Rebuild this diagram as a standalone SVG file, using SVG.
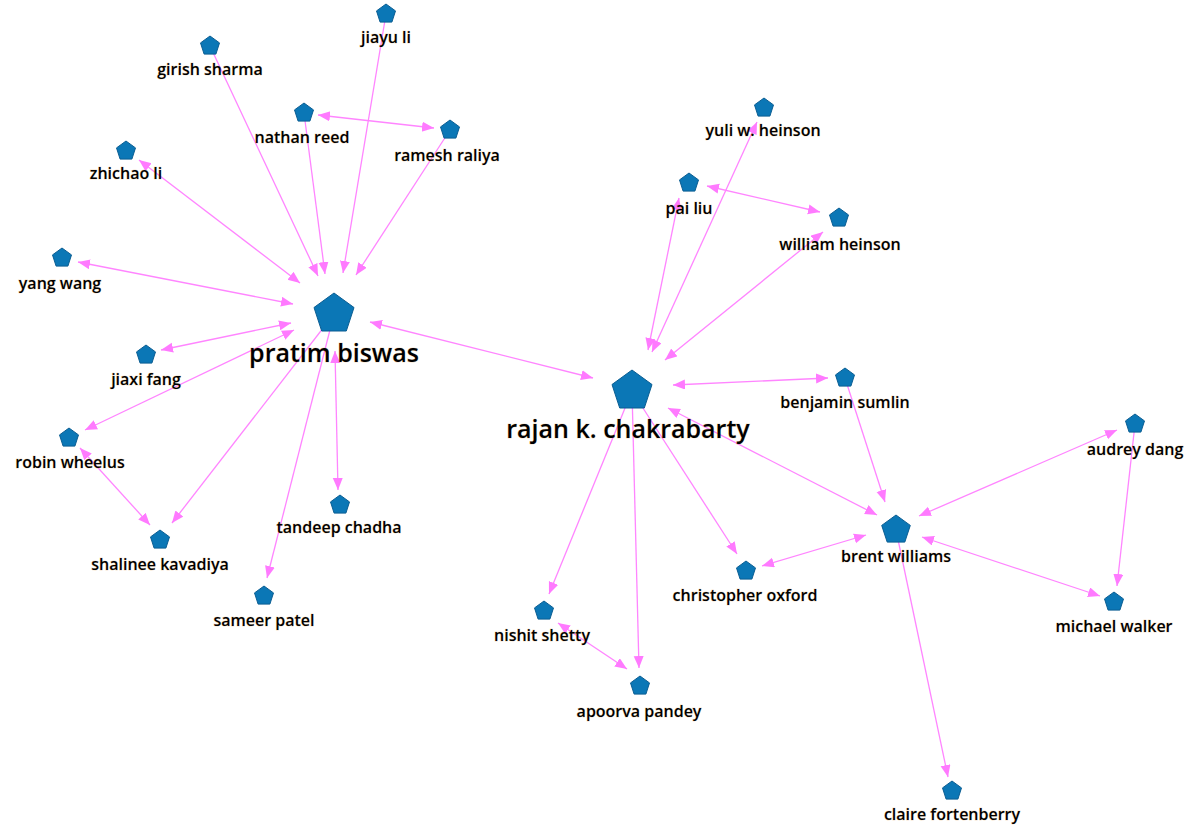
<svg xmlns="http://www.w3.org/2000/svg" width="1194" height="825" viewBox="0 0 1194 825">
  <style>
    .edge { stroke: #ff85ff; stroke-width: 1.3; fill: none; }
    .uni { marker-end: url(#arrow); }
    .bi { marker-start: url(#arrow); marker-end: url(#arrow); }
    .node { fill: #0b77b6; stroke: #0a5d92; stroke-width: 1; }
    .lbl { font-family: "Open Sans", "Liberation Sans", sans-serif; font-weight: 600; font-size: 16px; fill: #000; text-anchor: middle; paint-order: stroke; stroke: rgba(220,150,60,0.3); stroke-width: 1; }
    .big { font-size: 25px; }
  </style>
  <defs>
    <marker id="arrow" markerUnits="userSpaceOnUse" markerWidth="13" markerHeight="11" refX="12" refY="5" orient="auto-start-reverse">
      <path d="M0,0 L12,5 L0,10 z" fill="#ff7aff"/>
    </marker>
    <path id="pS" d="M0,-10 L9.5,-3.1 L5.9,8.1 L-5.9,8.1 L-9.5,-3.1 Z"/>
    <path id="pM" d="M0,-15 L14.3,-4.6 L8.8,12.1 L-8.8,12.1 L-14.3,-4.6 Z"/>
    <path id="pL" d="M0,-21 L20,-6.5 L12.3,17 L-12.3,17 L-20,-6.5 Z"/>
  </defs>
  <rect width="1194" height="825" fill="#ffffff"/>

  <g id="connectors">
    <line class="edge uni" x1="210" y1="46" x2="318" y2="276"/>
    <line class="edge uni" x1="386" y1="14" x2="343" y2="273"/>
    <line class="edge bi" x1="318" y1="115" x2="434" y2="128"/>
    <line class="edge uni" x1="304" y1="113" x2="325" y2="274"/>
    <line class="edge uni" x1="450" y1="130" x2="356" y2="275"/>
    <line class="edge bi" x1="139" y1="160" x2="300" y2="283"/>
    <line class="edge bi" x1="78" y1="262" x2="293" y2="304"/>
    <line class="edge bi" x1="161" y1="350" x2="291" y2="323"/>
    <line class="edge bi" x1="85" y1="430" x2="294" y2="330"/>
    <line class="edge uni" x1="334" y1="314" x2="172" y2="523"/>
    <line class="edge bi" x1="80" y1="448" x2="150" y2="525"/>
    <line class="edge bi" x1="335" y1="351" x2="338" y2="490"/>
    <line class="edge uni" x1="334" y1="314" x2="267" y2="578"/>
    <line class="edge bi" x1="370" y1="322" x2="593" y2="378"/>
    <line class="edge bi" x1="679" y1="198" x2="648" y2="350"/>
    <line class="edge bi" x1="757" y1="122" x2="652" y2="352"/>
    <line class="edge bi" x1="823" y1="232" x2="665" y2="360"/>
    <line class="edge bi" x1="707" y1="186" x2="820" y2="212"/>
    <line class="edge bi" x1="673" y1="385" x2="828" y2="378"/>
    <line class="edge uni" x1="632" y1="391" x2="549" y2="594"/>
    <line class="edge uni" x1="632" y1="391" x2="639" y2="668"/>
    <line class="edge uni" x1="632" y1="391" x2="737" y2="554"/>
    <line class="edge bi" x1="668" y1="408" x2="877" y2="515"/>
    <line class="edge uni" x1="845" y1="378" x2="885" y2="502"/>
    <line class="edge bi" x1="1117" y1="430" x2="919" y2="516"/>
    <line class="edge uni" x1="1135" y1="424" x2="1117" y2="586"/>
    <line class="edge bi" x1="922" y1="537" x2="1100" y2="596"/>
    <line class="edge bi" x1="866" y1="535" x2="762" y2="566"/>
    <line class="edge uni" x1="896" y1="530" x2="948" y2="777"/>
    <line class="edge bi" x1="558" y1="623" x2="627" y2="669"/>
  </g>

  <g id="jiayu-li"><use href="#pS" class="node" x="386" y="14"/><text class="lbl" x="386" y="43">jiayu li</text></g>
  <g id="girish-sharma"><use href="#pS" class="node" x="210" y="46"/><text class="lbl" x="210" y="75">girish sharma</text></g>
  <g id="nathan-reed"><use href="#pS" class="node" x="304" y="113"/><text class="lbl" x="302" y="143">nathan reed</text></g>
  <g id="ramesh-raliya"><use href="#pS" class="node" x="450" y="130"/><text class="lbl" x="447" y="161">ramesh raliya</text></g>
  <g id="zhichao-li"><use href="#pS" class="node" x="126" y="151"/><text class="lbl" x="126" y="179">zhichao li</text></g>
  <g id="yang-wang"><use href="#pS" class="node" x="62" y="258"/><text class="lbl" x="60" y="289">yang wang</text></g>
  <g id="pratim-biswas"><use href="#pL" class="node" x="334" y="314"/><text class="lbl big" x="334" y="362">pratim biswas</text></g>
  <g id="jiaxi-fang"><use href="#pS" class="node" x="146" y="355"/><text class="lbl" x="146" y="385">jiaxi fang</text></g>
  <g id="robin-wheelus"><use href="#pS" class="node" x="69" y="438"/><text class="lbl" x="70" y="468">robin wheelus</text></g>
  <g id="shalinee-kavadiya"><use href="#pS" class="node" x="160" y="540"/><text class="lbl" x="160" y="570">shalinee kavadiya</text></g>
  <g id="tandeep-chadha"><use href="#pS" class="node" x="340" y="505"/><text class="lbl" x="339" y="533">tandeep chadha</text></g>
  <g id="sameer-patel"><use href="#pS" class="node" x="264" y="596"/><text class="lbl" x="264" y="626">sameer patel</text></g>
  <g id="yuli-w-heinson"><use href="#pS" class="node" x="764" y="108"/><text class="lbl" x="763" y="136">yuli w. heinson</text></g>
  <g id="pai-liu"><use href="#pS" class="node" x="689" y="183"/><text class="lbl" x="689" y="214">pai liu</text></g>
  <g id="william-heinson"><use href="#pS" class="node" x="839" y="218"/><text class="lbl" x="840" y="250">william heinson</text></g>
  <g id="rajan-k-chakrabarty"><use href="#pL" class="node" x="632" y="391"/><text class="lbl big" x="628" y="438">rajan k. chakrabarty</text></g>
  <g id="benjamin-sumlin"><use href="#pS" class="node" x="845" y="378"/><text class="lbl" x="845" y="408">benjamin sumlin</text></g>
  <g id="audrey-dang"><use href="#pS" class="node" x="1135" y="424"/><text class="lbl" x="1135" y="455">audrey dang</text></g>
  <g id="brent-williams"><use href="#pM" class="node" x="896" y="530"/><text class="lbl" x="896" y="562">brent williams</text></g>
  <g id="christopher-oxford"><use href="#pS" class="node" x="746" y="571"/><text class="lbl" x="745" y="601">christopher oxford</text></g>
  <g id="michael-walker"><use href="#pS" class="node" x="1114" y="602"/><text class="lbl" x="1114" y="632">michael walker</text></g>
  <g id="nishit-shetty"><use href="#pS" class="node" x="544" y="611"/><text class="lbl" x="542" y="641">nishit shetty</text></g>
  <g id="apoorva-pandey"><use href="#pS" class="node" x="640" y="686"/><text class="lbl" x="639" y="717">apoorva pandey</text></g>
  <g id="claire-fortenberry"><use href="#pS" class="node" x="952" y="791"/><text class="lbl" x="952" y="820">claire fortenberry</text></g>
</svg>
